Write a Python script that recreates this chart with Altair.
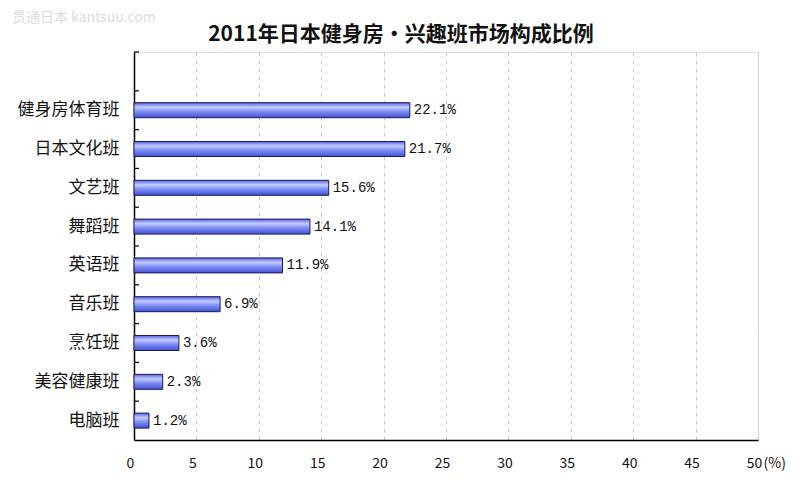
import altair as alt
import pandas as pd

categories = ["健身房体育班", "日本文化班", "文艺班", "舞蹈班", "英语班", "音乐班", "烹饪班", "美容健康班", "电脑班"]
values = [22.1, 21.7, 15.6, 14.1, 11.9, 6.9, 3.6, 2.3, 1.2]
x_ticks = [0, 5, 10, 15, 20, 25, 30, 35, 40, 45, 50]
domain = [" "] + categories
title_text = "2011年日本健身房·兴趣班市场构成比例"
watermark_text = "贯通日本 kantsuu.com"

df = pd.DataFrame({"cat": categories, "v": values})
df_ticks = pd.DataFrame({"cat": domain})

W, H = 624, 388
font = "Noto Sans CJK SC"

y_enc = alt.Y("cat:N", scale=alt.Scale(domain=domain, paddingInner=0, paddingOuter=0),
              axis=alt.Axis(title=None, ticks=False, labelPadding=15, labelFontSize=17,
                            labelColor="#111", labelFont=font, domainColor="#000",
                            domainWidth=1.5, grid=False))
x_scale = alt.Scale(domain=[0, 50], nice=False)

bars = alt.Chart(df).mark_bar(
    size=15,
    stroke="#1a1a5a", strokeWidth=1,
    color=alt.Gradient(gradient="linear", x1=0, x2=0, y1=0, y2=1,
                       stops=[alt.GradientStop(color="#5565e0", offset=0),
                              alt.GradientStop(color="#c4ccff", offset=0.3),
                              alt.GradientStop(color="#7c8cf2", offset=0.6),
                              alt.GradientStop(color="#4252d4", offset=1)])
).encode(
    x=alt.X("v:Q", scale=x_scale,
            axis=alt.Axis(values=x_ticks, title="(%)", titleX=W + 5, titleY=23,
                          titleAlign="left", titleBaseline="middle", titleFontSize=14,
                          titleFontWeight="normal",
                          titleFont=font, titleColor="#111",
                          labelFontSize=14, labelFont=font, labelColor="#111",
                          labelFlush=False, labelOffset=-4,
                          labelPadding=16, ticks=False, domainColor="#000", domainWidth=1.5,
                          grid=True, gridDash=[4, 4], gridColor="#c8c8c8")),
    y=y_enc,
)

labels = alt.Chart(df).transform_calculate(
    label="format(datum.v, '.1f') + '%'"
).mark_text(align="left", baseline="middle", dx=4, fontSize=14, font="Liberation Mono",
            color="#111").encode(
    x=alt.X("v:Q", scale=x_scale),
    y=alt.Y("cat:N", scale=alt.Scale(domain=domain)),
    text="label:N",
)

yticks = alt.Chart(df_ticks).mark_rule(color="#000", strokeWidth=1.2).encode(
    x=alt.value(0), x2=alt.value(5),
    y=alt.Y("cat:N", bandPosition=0, scale=alt.Scale(domain=domain)),
)

watermark = alt.Chart(pd.DataFrame({"t": [watermark_text]})).mark_text(
    align="left", baseline="middle", fontSize=14, font=font, color="#dcdcdc"
).encode(x=alt.value(-122), y=alt.value(-34), text="t:N")

title = alt.Chart(pd.DataFrame({"t": [title_text]})).mark_text(
    align="center", baseline="middle", fontSize=21, fontWeight="bold", font=font, color="#111"
).encode(x=alt.value(267), y=alt.value(-17), text="t:N")

chart = alt.layer(bars, labels, yticks, watermark, title).properties(
    width=W, height=H,
    autosize=alt.AutoSizeParams(type="none"),
    padding={"left": 126, "top": 44, "right": 34, "bottom": 34},
).configure_view(stroke=None).configure(background="white")

chart.save("out.html", embed_options={"renderer": "svg", "actions": False})
